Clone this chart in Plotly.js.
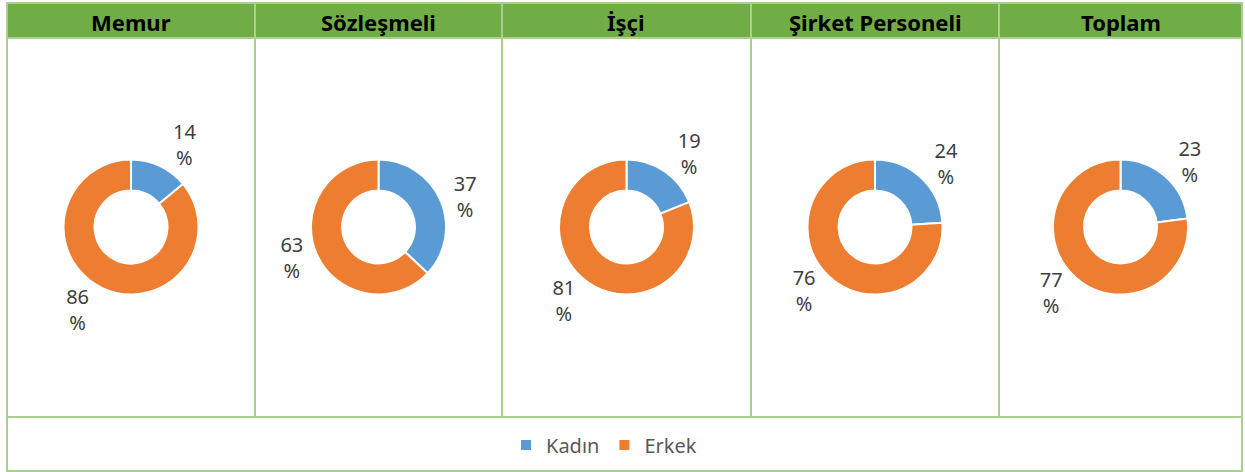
<!DOCTYPE html>
<html>
<head>
<meta charset="utf-8">
<script src="https://cdn.plot.ly/plotly-3.0.1.min.js"></script>
<style>html,body{margin:0;padding:0;background:#fff;}#chart{width:1245px;height:472px;}</style>
</head>
<body>
<div id="chart"></div>
<script>
// ---- data ----
const categories = ['Memur', 'Sözleşmeli', 'İşçi', 'Şirket Personeli', 'Toplam'];
const seriesNames = ['Kadın', 'Erkek'];
const kadin = [14, 37, 19, 24, 23];
const erkek = [86, 63, 81, 76, 77];

// ---- layout helpers (pixels -> paper) ----
const W = 1245, H = 472;
const px = x => x / W;
const py = y => 1 - y / H;
const colEdges = [7, 255, 502, 751, 999, 1242];
const topY = 3, headBottom = 38, bodyBottom = 417, bottomY = 471;
const pieCY = 227, pieR = 67.5;
const green = '#70AD47', border = '#A9D08E';

const traces = categories.map((c, i) => {
  const cx = (colEdges[i] + colEdges[i + 1]) / 2;
  return {
    type: 'pie',
    name: c,
    labels: seriesNames,
    values: [kadin[i], erkek[i]],
    sort: false,
    direction: 'clockwise',
    rotation: 0,
    hole: 0.54,
    domain: {x: [px(cx - pieR), px(cx + pieR)], y: [py(pieCY + pieR), py(pieCY - pieR)]},
    marker: {colors: ['#5B9BD5', '#ED7D31'], line: {color: '#FFFFFF', width: 2}},
    texttemplate: '%{value}<br>%',
    textposition: 'outside',
    textfont: {family: 'Noto Sans, sans-serif', size: 20, color: '#404040'},
    showlegend: i === 0,
    hoverinfo: 'label+value'
  };
});

const shapes = [];
// header fill
shapes.push({type: 'rect', xref: 'paper', yref: 'paper', x0: px(colEdges[0]), x1: px(colEdges[5]), y0: py(headBottom), y1: py(topY), fillcolor: green, line: {width: 0}, layer: 'below'});
// outer border
shapes.push({type: 'rect', xref: 'paper', yref: 'paper', x0: px(colEdges[0]), x1: px(colEdges[5]), y0: py(bottomY), y1: py(topY), line: {color: border, width: 2}, fillcolor: 'rgba(0,0,0,0)'});
// horizontal lines
[headBottom, bodyBottom].forEach(y => shapes.push({type: 'line', xref: 'paper', yref: 'paper', x0: px(colEdges[0]), x1: px(colEdges[5]), y0: py(y), y1: py(y), line: {color: border, width: 2}}));
// vertical dividers
colEdges.slice(1, 5).forEach(x => shapes.push({type: 'line', xref: 'paper', yref: 'paper', x0: px(x), x1: px(x), y0: py(bodyBottom), y1: py(topY), line: {color: border, width: 2}}));

const annotations = categories.map((c, i) => ({
  xref: 'paper', yref: 'paper',
  x: px((colEdges[i] + colEdges[i + 1]) / 2), y: py((topY + headBottom) / 2 + 1),
  text: '<b>' + c + '</b>', showarrow: false,
  xanchor: 'center', yanchor: 'middle',
  font: {family: 'Noto Sans, sans-serif', size: 22, color: '#000000'}
}));

const layout = {
  width: W, height: H,
  margin: {l: 0, r: 0, t: 0, b: 0},
  paper_bgcolor: '#FFFFFF',
  shapes: shapes,
  annotations: annotations,
  showlegend: true,
  legend: {
    orientation: 'h', x: px(506), xanchor: 'left', y: py(445), yanchor: 'middle',
    font: {family: 'Noto Sans, sans-serif', size: 20, color: '#595959'},
    itemwidth: 30, bgcolor: 'rgba(0,0,0,0)'
  }
};

Plotly.newPlot('chart', traces, layout, {displayModeBar: false, staticPlot: true});
</script>
</body>
</html>
